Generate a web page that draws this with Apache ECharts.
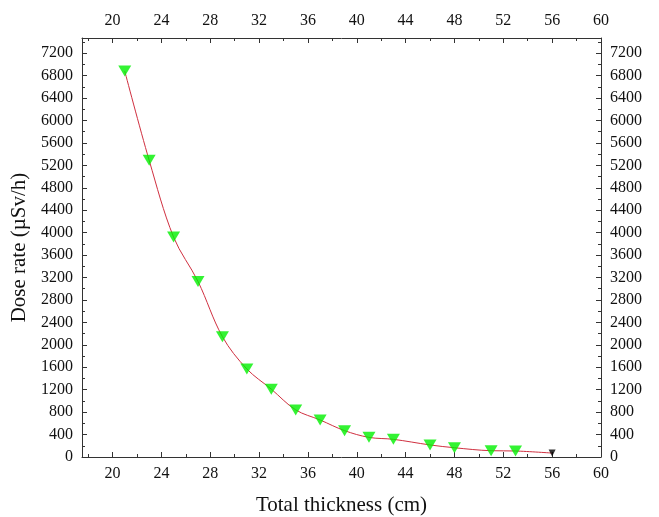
<!DOCTYPE html>
<html>
<head>
<meta charset="utf-8">
<script src="https://cdn.jsdelivr.net/npm/echarts@6/dist/echarts.min.js"></script>
<style>
  html, body { margin: 0; padding: 0; background: #fff; }
  #root { width: 659px; height: 517px; }
</style>
</head>
<body>
<div id="root"></div>
<script>
// data
var thickness = [21, 23, 25, 27, 29, 31, 33, 35, 37, 39, 41, 43, 46, 48, 51, 53, 56];
var doseRate = [6880, 5290, 3920, 3130, 2145, 1570, 1210, 840, 660, 470, 350, 315, 215, 165, 112, 107, 70];
var lastIndex = 16; // the point at 56 cm is drawn with a small black marker

// tick labels
var xTicks = [20, 24, 28, 32, 36, 40, 44, 48, 52, 56, 60];
var xMinor = [18, 22, 26, 30, 34, 38, 42, 46, 50, 54, 58];
var yTicks = [0, 400, 800, 1200, 1600, 2000, 2400, 2800, 3200, 3600, 4000, 4400, 4800, 5200, 5600, 6000, 6400, 6800, 7200];
var yMinor = [200, 600, 1000, 1400, 1800, 2200, 2600, 3000, 3400, 3800, 4200, 4600, 5000, 5400, 5800, 6200, 6600, 7000, 7400];

var X_MIN = 17.5, X_MAX = 60, Y_MIN = 0, Y_MAX = 7470;
var FONT = '"Liberation Serif", "DejaVu Serif", serif';

var chart = echarts.init(document.getElementById('root'));

function makeAxis(pos, isX, ticks, major, opts) {
  var ax = {
    type: 'value',
    position: pos,
    min: isX ? X_MIN : Y_MIN,
    max: isX ? X_MAX : Y_MAX,
    splitLine: { show: false },
    axisLine: { show: major, onZero: false, lineStyle: { color: '#333', width: 1 } },
    axisTick: {
      show: true, inside: true, length: major ? 5 : 3,
      customValues: ticks,
      lineStyle: { color: '#333', width: 1 }
    },
    axisLabel: {
      show: major,
      customValues: major ? ticks : [],
      formatter: function (v) { return String(v); },
      color: '#111', fontFamily: FONT, fontSize: 16, margin: 9
    }
  };
  return Object.assign(ax, opts || {});
}

var xAxes = [
  makeAxis('bottom', true, xTicks, true, {
    name: 'Total thickness (cm)', nameLocation: 'middle', nameGap: 38,
    nameTextStyle: { fontFamily: FONT, fontSize: 21, color: '#111' }
  }),
  makeAxis('top', true, xTicks, true),
  makeAxis('bottom', true, xMinor, false),
  makeAxis('top', true, xMinor, false)
];
var yAxes = [
  makeAxis('left', false, yTicks, true, {
    name: 'Dose rate (\u00B5Sv/h)', nameLocation: 'middle', nameGap: 50,
    nameTextStyle: { fontFamily: FONT, fontSize: 21, color: '#111' }
  }),
  makeAxis('right', false, yTicks, true),
  makeAxis('left', false, yMinor, false),
  makeAxis('right', false, yMinor, false)
];

var pts = thickness.map(function (x, i) { return [x, doseRate[i]]; });

var option = {
  animation: false,
  backgroundColor: '#fff',
  grid: { left: 82, right: 58, top: 38, bottom: 60, outerBoundsMode: 'none' },
  xAxis: xAxes,
  yAxis: yAxes,
  series: [
    {
      type: 'line',
      xAxisIndex: 0, yAxisIndex: 0,
      data: pts,
      smooth: 0.35,
      showSymbol: false,
      lineStyle: { color: '#d03040', width: 1 },
      z: 2
    },
    {
      type: 'scatter',
      xAxisIndex: 0, yAxisIndex: 0,
      data: pts.slice(0, lastIndex),
      symbol: 'triangle',
      symbolRotate: 180,
      symbolSize: [13, 11],
      itemStyle: { color: '#00f000' },
      z: 3
    },
    {
      type: 'scatter',
      xAxisIndex: 0, yAxisIndex: 0,
      data: pts.slice(lastIndex),
      symbol: 'triangle',
      symbolRotate: 180,
      symbolSize: [7, 7],
      itemStyle: { color: '#000' },
      z: 3
    }
  ]
};

chart.setOption(option);
window.addEventListener('resize', chart.resize);
</script>
</body>
</html>
